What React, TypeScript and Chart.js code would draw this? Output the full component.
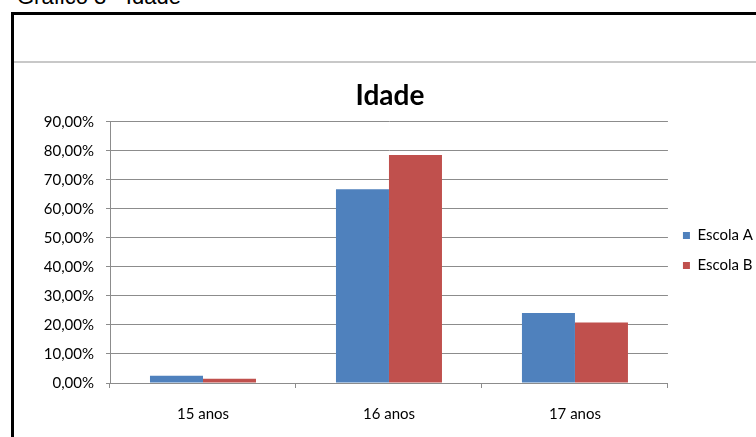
import React, { useEffect, useRef } from "react";
import { Chart, registerables } from "chart.js";

Chart.register(...registerables);

const categories = ["15 anos", "16 anos", "17 anos"];
const seriesNames = ["Escola A", "Escola B"];
const escolaA = [2.5, 66.7, 24.1];
const escolaB = [1.5, 78.5, 20.8];
const yMax = 90;
const yStep = 10;
const chartTitle = "Idade";
const caption = "Gráfico 3 - Idade";

const FONT = "Lato, 'Open Sans', sans-serif";

export default function App() {
  const ref = useRef<HTMLCanvasElement | null>(null);

  useEffect(() => {
    if (!ref.current) return;
    const chart = new Chart(ref.current, {
      type: "bar",
      data: {
        labels: categories,
        datasets: [
          {
            label: seriesNames[0],
            data: escolaA,
            backgroundColor: "#4F81BD",
            categoryPercentage: 0.57,
            barPercentage: 1,
          },
          {
            label: seriesNames[1],
            data: escolaB,
            backgroundColor: "#C0504D",
            categoryPercentage: 0.57,
            barPercentage: 1,
          },
        ],
      },
      options: {
        animation: false,
        responsive: false,
        maintainAspectRatio: false,
        layout: { padding: { left: 3, right: 3, top: 0, bottom: 0 } },
        plugins: {
          title: {
            display: true,
            text: chartTitle,
            color: "#000",
            font: { family: FONT, size: 28, weight: "bold" },
            padding: { top: 15.5, bottom: 8.6 },
          },
          legend: {
            display: true,
            position: "right",
            align: "center",
            labels: {
              boxWidth: 7,
              boxHeight: 7,
              padding: 15,
              color: "#000",
              font: { family: FONT, size: 15 },
            },
          },
          tooltip: { enabled: false },
        },
        scales: {
          x: {
            grid: {
              display: true,
              drawOnChartArea: false,
              drawTicks: true,
              tickLength: 5,
              color: "#8c8c8c",
              offset: true,
            },
            border: { display: true, color: "#8c8c8c" },
            ticks: {
              color: "#000",
              padding: 17,
              font: { family: FONT, size: 15 },
            },
            afterFit: (scale: any) => {
              scale.height = 54;
            },
          },
          y: {
            min: 0,
            max: yMax,
            grid: {
              color: "#8c8c8c",
              tickLength: 4,
            },
            border: { display: true, color: "#8c8c8c" },
            ticks: {
              stepSize: yStep,
              color: "#000",
              padding: 12,
              font: { family: FONT, size: 15 },
              callback: (v: any) => Number(v).toFixed(2).replace(".", ",") + "%",
            },
            afterFit: (scale: any) => {
              scale.width = 93;
            },
          },
        },
      },
    });
    return () => chart.destroy();
  }, []);

  return (
    <div
      style={{
        position: "fixed",
        left: 0,
        top: 0,
        width: 756,
        height: 437,
        overflow: "hidden",
        background: "#fff",
      }}
    >
      <div
        style={{
          position: "absolute",
          left: 17,
          top: -14,
          fontFamily: "'Liberation Sans', Arial, sans-serif",
          fontSize: 22,
          lineHeight: "22px",
          color: "#000",
          whiteSpace: "nowrap",
        }}
      >
        {caption}
      </div>
      <div
        style={{
          position: "absolute",
          left: 11,
          top: 12,
          width: 800,
          height: 500,
          border: "3px solid #000",
          boxSizing: "border-box",
        }}
      />
      <div
        style={{
          position: "absolute",
          left: 14,
          top: 61,
          width: 760,
          height: 2,
          background: "#c8c8c8",
        }}
      />
      <canvas
        ref={ref}
        width={752}
        height={373}
        style={{ position: "absolute", left: 14, top: 64, width: 752, height: 373 }}
      />
    </div>
  );
}
